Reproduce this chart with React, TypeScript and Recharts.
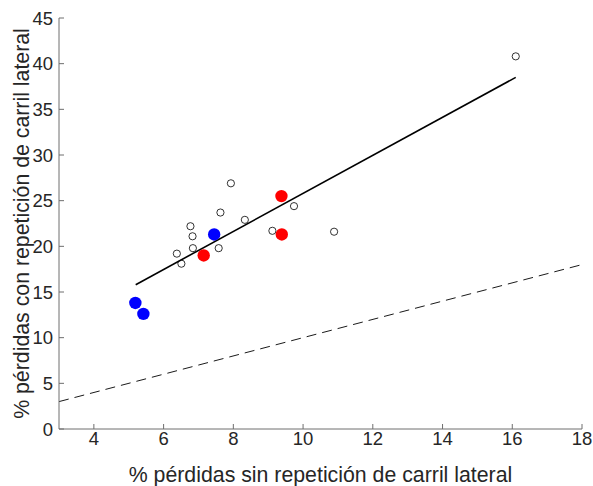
import React from 'react';
import {
  ScatterChart,
  Scatter,
  XAxis,
  YAxis,
  Label,
  ReferenceLine,
} from 'recharts';

// open markers: all segments
const openX = [16.1, 7.93, 7.63, 8.33, 9.74, 9.12, 10.89, 6.77, 6.83, 6.84, 6.38, 6.51, 7.58];
const openY = [40.8, 26.9, 23.7, 22.9, 24.4, 21.7, 21.6, 22.2, 21.1, 19.8, 19.2, 18.1, 19.8];

// highlighted red markers
const redX = [9.38, 9.39, 7.15];
const redY = [25.5, 21.3, 19.0];

// highlighted blue markers
const blueX = [7.45, 5.19, 5.42];
const blueY = [21.3, 13.8, 12.6];

// fitted line endpoints
const fitX = [5.2, 16.1];
const fitY = [15.8, 38.5];

// identity line y = x
const identity = [3, 18];

const xTicks = [4, 6, 8, 10, 12, 14, 16, 18];
const yTicks = [0, 5, 10, 15, 20, 25, 30, 35, 40, 45];

const zip = (xs: number[], ys: number[]) => xs.map((x, i) => ({ x, y: ys[i] }));

const openData = zip(openX, openY);
const redData = zip(redX, redY);
const blueData = zip(blueX, blueY);
const fitData = zip(fitX, fitY);

const FONT = '"Liberation Sans", Arial, Helvetica, sans-serif';
const TEXT = '#262626';
const AXIS = '#6e6e6e';

const OpenCircle = (props: any) => (
  <circle cx={props.cx} cy={props.cy} r={3.6} fill='none' stroke='#000' strokeWidth={0.8} />
);

const dot = (color: string) => (props: any) => (
  <circle cx={props.cx} cy={props.cy} r={6.2} fill={color} stroke='none' />
);

const NoShape = () => <g />;

const YLabel = (props: any) => {
  const vb = props.viewBox;
  const cx = vb.x + vb.width / 2 - 1;
  const cy = vb.y + vb.height / 2;
  return (
    <text
      x={cx}
      y={cy}
      transform={`rotate(-90 ${cx} ${cy})`}
      textAnchor='middle'
      fontSize={21.3}
      fontFamily={FONT}
      fill={TEXT}
    >
      % pérdidas con repetición de carril lateral
    </text>
  );
};

const App: React.FC = () => {
  const tickStyle = { fontSize: 18.5, fill: TEXT, fontFamily: FONT };
  return (
    <div style={{ position: 'fixed', left: 0, top: 0, background: '#fff' }}>
      <ScatterChart
        width={593}
        height={486}
        margin={{ top: 18, right: 11, bottom: 0, left: 0 }}
      >
        <XAxis
          type='number'
          dataKey='x'
          domain={[3, 18]}
          ticks={xTicks}
          allowDataOverflow
          height={57}
          tickSize={-5}
          tickMargin={8}
          tick={tickStyle}
          stroke={AXIS}
          tickLine={{ stroke: AXIS }}
        >
          <Label
            value='% pérdidas sin repetición de carril lateral'
            position='insideBottom'
            offset={4}
            style={{ fontSize: 21.3, fill: TEXT, fontFamily: FONT }}
          />
        </XAxis>
        <YAxis
          type='number'
          dataKey='y'
          domain={[0, 45]}
          ticks={yTicks}
          allowDataOverflow
          width={59}
          tickSize={-5}
          tickMargin={11}
          tick={tickStyle}
          stroke={AXIS}
          tickLine={{ stroke: AXIS }}
        >
          <Label content={YLabel} />
        </YAxis>
        <ReferenceLine
          segment={[
            { x: identity[0], y: identity[0] },
            { x: identity[1], y: identity[1] },
          ]}
          stroke='#000'
          strokeWidth={0.9}
          strokeDasharray='10 6'
          ifOverflow='visible'
        />
        <Scatter
          data={fitData}
          line={{ stroke: '#000', strokeWidth: 1.6 }}
          shape={NoShape}
          isAnimationActive={false}
        />
        <Scatter data={openData} shape={OpenCircle} isAnimationActive={false} />
        <Scatter data={redData} shape={dot('#ff0000')} isAnimationActive={false} />
        <Scatter data={blueData} shape={dot('#0000ff')} isAnimationActive={false} />
      </ScatterChart>
    </div>
  );
};

export default App;
